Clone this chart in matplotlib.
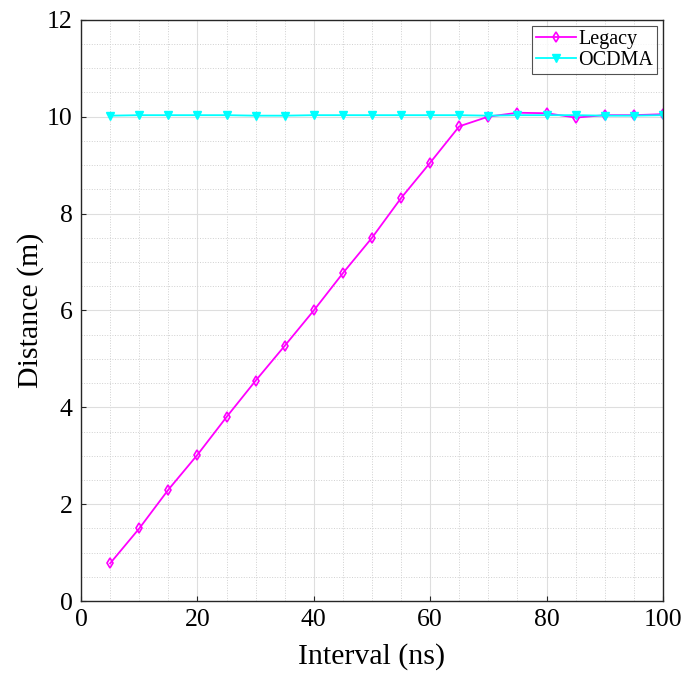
import numpy as np
import matplotlib.pyplot as plt
from matplotlib.ticker import MultipleLocator

plt.rcParams['font.family'] = ['Liberation Serif', 'DejaVu Serif']
plt.rcParams['mathtext.fontset'] = 'stix'

interval = [5, 10, 15, 20, 25, 30, 35, 40, 45, 50,
            55, 60, 65, 70, 75, 80, 85, 90, 95, 100]
legacy = [0.78, 1.50, 2.30, 3.02, 3.80, 4.55, 5.27, 6.00, 6.77, 7.50,
          8.32, 9.05, 9.80, 10.00, 10.08, 10.07, 9.98, 10.03, 10.03, 10.05]
ocdma = [10.02, 10.03, 10.03, 10.03, 10.03, 10.02, 10.02, 10.03, 10.03, 10.03,
         10.03, 10.03, 10.03, 10.02, 10.03, 10.03, 10.03, 10.02, 10.02, 10.03]

fig = plt.figure(figsize=(6.87, 6.80), dpi=100)
ax = fig.add_axes([0.118, 0.116, 0.847, 0.855])

ax.plot(interval, legacy, color='#ff00ff', marker='d', markersize=5,
        markerfacecolor='none', markeredgewidth=1.2, linewidth=1.3, label='Legacy')
ax.plot(interval, ocdma, color='#00ffff', marker='v', markersize=6,
        linewidth=1.3, label='OCDMA')

ax.set_xlim(0, 100)
ax.set_ylim(0, 12)
ax.xaxis.set_major_locator(MultipleLocator(20))
ax.xaxis.set_minor_locator(MultipleLocator(5))
ax.yaxis.set_major_locator(MultipleLocator(2))
ax.yaxis.set_minor_locator(MultipleLocator(0.5))
ax.grid(which='major', color='#dedede', linewidth=0.8)
ax.grid(which='minor', color='#d0d0d0', linestyle=':', linewidth=0.7)
ax.set_axisbelow(True)

ax.tick_params(which='both', direction='in', labelsize=18.5, color='#262626', pad=6)
ax.tick_params(which='minor', length=0)
for s in ax.spines.values():
    s.set_color('#262626')
    s.set_linewidth(1.0)

ax.set_xlabel('Interval (ns)', fontsize=21.5, labelpad=8)
ax.set_ylabel('Distance (m)', fontsize=21.5, labelpad=2)

leg = ax.legend(loc='upper right', fontsize=14.5, frameon=True, fancybox=False,
                edgecolor='#262626', handlelength=2.0, handletextpad=0.1,
                borderpad=0.2, labelspacing=0.1, borderaxespad=0.3)
leg.get_frame().set_linewidth(0.8)

fig.savefig('out.png', dpi=100)
